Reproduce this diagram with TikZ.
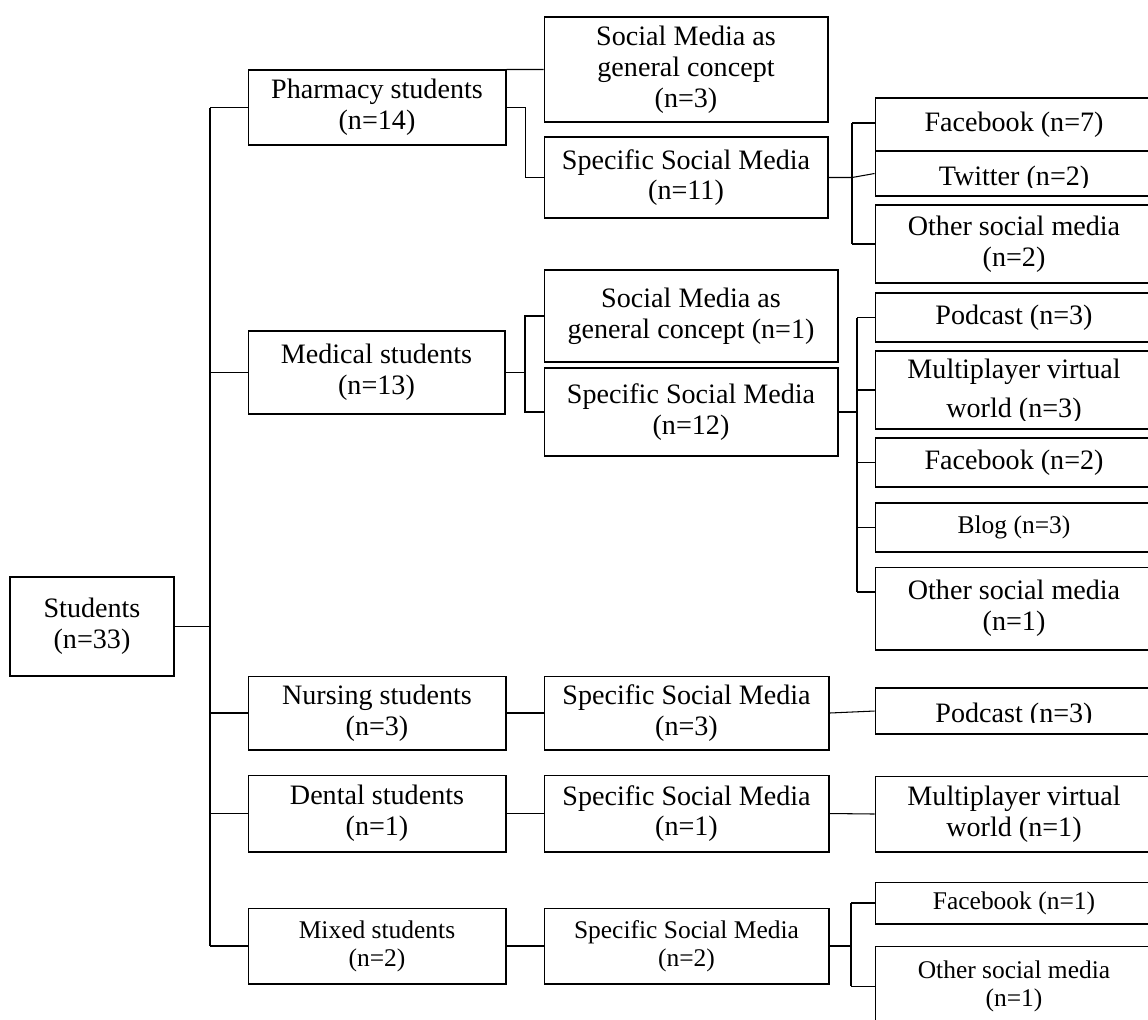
\documentclass[tikz,border=0pt]{standalone}
\usepackage{fontspec}
\setmainfont{Liberation Serif}
\newcommand{\bigtxt}{\fontsize{16}{17.5}\selectfont}
\newcommand{\smalltxt}{\fontsize{14.5}{16}\selectfont}

\begin{document}
\begin{tikzpicture}[x = 0.02cm, y = -0.02cm, line width = 0.6pt,
    box/.style = {draw, rectangle, align = center, inner sep = 0pt, font = \bigtxt},
    small/.style = {font = \smalltxt},
    right box/.style = {box, minimum width = 5.56cm},
    clipped/.style n args = {3}{path picture = {
        \clip ([yshift = #3]path picture bounding box.south west) rectangle (path picture bounding box.north east);
        \node[draw = none, font = \bigtxt, align = center, inner sep = 0pt, minimum width = 0pt, minimum height = 0pt, anchor = north]
            at ([yshift = -#2]path picture bounding box.north) {#1};}}]
    \useasboundingbox (0,0) rectangle (1148,1019);
    \clip (0,0) rectangle (1148,1019);

    % root
    \node[box, line width = 0.9pt, minimum width = 3.28cm, minimum height = 1.98cm] (stud) at (92,626.5) {Students\\(n=33)};

    % pharmacy
    \node[box, minimum width = 5.16cm, minimum height = 1.5cm] (pharm) at (377,107.5) {Pharmacy students\\(n=14)};
    \node[box, minimum width = 5.68cm, minimum height = 2.1cm] (gen1) at (686,69.5) {Social Media as\\general concept\\(n=3)};
    \node[box, minimum width = 5.68cm, minimum height = 1.62cm] (spec1) at (686,177.5) {Specific Social Media\\(n=11)};
    \node[right box, minimum height = 1.06cm] (fb1) at (1014,124.5) {Facebook (n=7)};
    \node[right box, minimum height = 0.9cm, clipped = {Twitter (n=2)}{8pt}{5pt}] (tw1) at (1014,173.5) {};
    \node[right box, minimum height = 1.56cm] (oth1) at (1014,244) {Other social media\\(n=2)};

    % medical
    \node[box, minimum width = 5.14cm, minimum height = 1.66cm] (med) at (376.5,372.5) {Medical students\\(n=13)};
    \node[box, minimum width = 5.88cm, minimum height = 1.84cm] (gen2) at (691,316) {Social Media as\\general concept (n=1)};
    \node[box, minimum width = 5.88cm, minimum height = 1.76cm] (spec2) at (691,412) {Specific Social Media\\(n=12)};
    \node[right box, minimum height = 0.98cm] (pod2) at (1014,317.5) {Podcast (n=3)};
    \node[right box, minimum height = 1.56cm, clipped = {Multiplayer virtual\\[5pt]world (n=3)}{4pt}{5pt}] (mvw2) at (1014,390) {};
    \node[right box, minimum height = 0.98cm] (fb2) at (1014,462.5) {Facebook (n=2)};
    \node[right box, small, minimum height = 0.98cm] (blog2) at (1014,527.5) {Blog (n=3)};
    \node[right box, minimum height = 1.66cm] (oth2) at (1014,608.5) {Other social media\\(n=1)};

    % nursing
    \node[box, minimum width = 5.16cm, minimum height = 1.48cm] (nurs) at (377,713) {Nursing students\\(n=3)};
    \node[box, minimum width = 5.7cm, minimum height = 1.48cm] (spec3) at (686.5,713) {Specific Social Media\\(n=3)};
    \node[right box, minimum height = 0.92cm, clipped = {Podcast (n=3)}{8.5pt}{6.5pt}] (pod3) at (1014,711) {};

    % dental
    \node[box, minimum width = 5.16cm, minimum height = 1.54cm] (dent) at (377,813.5) {Dental students\\(n=1)};
    \node[box, minimum width = 5.7cm, minimum height = 1.54cm] (spec4) at (686.5,813.5) {Specific Social Media\\(n=1)};
    \node[right box, minimum height = 1.52cm] (mvw4) at (1014,814) {Multiplayer virtual\\world (n=1)};

    % mixed
    \node[box, small, minimum width = 5.16cm, minimum height = 1.52cm] (mix) at (377,946) {Mixed students\\(n=2)};
    \node[box, small, minimum width = 5.7cm, minimum height = 1.52cm] (spec5) at (686.5,946) {Specific Social Media\\(n=2)};
    \node[right box, small, minimum height = 0.84cm] (fb5) at (1014,903) {Facebook (n=1)};
    \node[right box, small, minimum height = 1.6cm] (oth5) at (1014,986) {Other social media\\(n=1)};

    % trunk
    \coordinate (trunk top) at (210,107.5);
    \coordinate (trunk bot) at (210,946);
    \draw (trunk top) -- (trunk bot);
    \draw (stud.east) -- (stud.east -| trunk top);
    \foreach \n in {pharm, med, nurs, dent, mix}
        \draw (\n.west) -- (\n.west -| trunk top);

    % pharmacy branches
    \draw (pharm.north east) -- (gen1.west);
    \draw (pharm.east) -- ++(19,0) |- (spec1.west);
    \coordinate (v1 top) at (852,123);
    \coordinate (v1 bot) at (852,244);
    \draw (v1 top) -- (v1 bot);
    \draw (v1 top) -- (v1 top -| fb1.west);
    \draw (v1 bot) -- (oth1.west);
    \draw (spec1.east) -- (spec1.east -| v1 top) -- (tw1.west);

    % medical branches
    \coordinate (v2) at (525,372.5);
    \draw (med.east) -- (v2);
    \draw (gen2.west) -| (v2) |- (spec2.west);
    \coordinate (v3 top) at (857,317.5);
    \coordinate (v3 bot) at (857,592);
    \draw (spec2.east) -- (spec2.east -| v3 top);
    \draw (v3 top) -- (v3 bot);
    \draw (v3 top) -- (pod2.west);
    \foreach \n in {mvw2, fb2, blog2}
        \draw (\n.west) -- (\n.west -| v3 top);
    \draw (v3 bot) -- (v3 bot -| oth2.west);

    % nursing, dental
    \draw (nurs.east) -- (spec3.west);
    \draw (spec3.east) -- (pod3.west);
    \draw (dent.east) -- (spec4.west);
    \draw (spec4.east) -- (mvw4.west);

    % mixed branches
    \draw (mix.east) -- (spec5.west);
    \coordinate (v5 top) at (851,903);
    \coordinate (v5 bot) at (851,986);
    \draw (spec5.east) -- (spec5.east -| v5 top);
    \draw (v5 top) -- (v5 bot);
    \draw (v5 top) -- (fb5.west);
    \draw (v5 bot) -- (oth5.west);
\end{tikzpicture}
\end{document}
